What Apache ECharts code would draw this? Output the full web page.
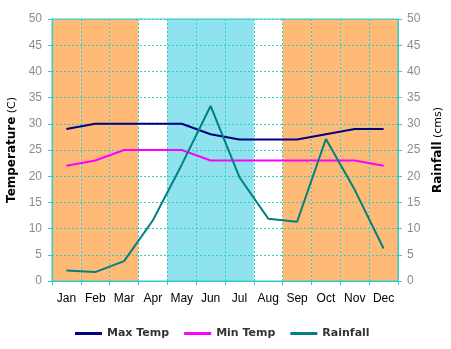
<!DOCTYPE html>
<html>
<head>
<meta charset="utf-8">
<script src="https://cdn.jsdelivr.net/npm/echarts@6/dist/echarts.min.js"></script>
<style>html,body{margin:0;padding:0;background:#fff}#c{width:451px;height:349px}</style>
</head>
<body>
<div id="c"></div>
<script>
var months = ['Jan','Feb','Mar','Apr','May','Jun','Jul','Aug','Sep','Oct','Nov','Dec'];
var maxTemp = [29, 30, 30, 30, 30, 28, 27, 27, 27, 28, 29, 29];
var minTemp = [22, 23, 25, 25, 25, 23, 23, 23, 23, 23, 23, 22];
var rainfall = [2, 1.7, 3.8, 11.6, 22.2, 33.4, 19.8, 11.9, 11.3, 27.1, 17.4, 6.2];
var bandColors = ['#FFBA75','#FFBA75','#FFBA75','#FFFFFF','#8EE3EF','#8EE3EF','#8EE3EF','#FFFFFF','#FFBA75','#FFBA75','#FFBA75','#FFBA75'];
var axisMax = 50;
var cyan = '#33CCCC';

var chart = echarts.init(document.getElementById('c'), null, {renderer:'canvas'});
chart.setOption({
  animation: false,
  backgroundColor: '#fff',
  grid: {left: 52, right: 53, top: 19, bottom: 68, show: true, borderColor: cyan, borderWidth: 1, outerBoundsMode: 'none', containLabel: false},
  legend: {
    data: ['Max Temp','Min Temp','Rainfall'],
    left: 70, top: 323,
    icon: 'rect', itemWidth: 27, itemHeight: 3, itemGap: 15,
    textStyle: {fontFamily: 'DejaVu Sans', fontWeight: 'bold', fontSize: 11, color: '#333'}
  },
  xAxis: {
    type: 'category', data: months, boundaryGap: true,
    axisLine: {lineStyle: {color: cyan}},
    axisTick: {show: true, length: 4, lineStyle: {color: cyan}},
    axisLabel: {interval: 0, color: '#000', fontFamily: 'Liberation Sans', fontSize: 12, margin: 12},
    splitLine: {show: true, interval: 0, lineStyle: {color: cyan, type: [2,2], width: 1}}
  },
  yAxis: [{
    type: 'value', min: 0, max: axisMax, interval: 5, position: 'left',
    name: '{b|Temperature} {n|(C)}', nameLocation: 'middle', nameGap: 33, nameRotate: 90,
    nameTextStyle: {rich: {b: {fontFamily: 'DejaVu Sans', fontWeight: 'bold', fontSize: 12, color: '#000'}, n: {fontFamily: 'DejaVu Sans', fontSize: 11, color: '#000'}}},
    axisLine: {show: true, lineStyle: {color: cyan}},
    axisTick: {show: true, length: 4, lineStyle: {color: cyan}},
    axisLabel: {color: '#8c8c8c', fontFamily: 'Liberation Sans', fontSize: 12, margin: 10},
    splitLine: {show: true, lineStyle: {color: cyan, type: [2,2], width: 1}}
  }, {
    type: 'value', min: 0, max: axisMax, interval: 5, position: 'right',
    name: '{b|Rainfall} {n|(cms)}', nameLocation: 'middle', nameGap: 34, nameRotate: 90,
    nameTextStyle: {rich: {b: {fontFamily: 'DejaVu Sans', fontWeight: 'bold', fontSize: 12, color: '#000'}, n: {fontFamily: 'DejaVu Sans', fontSize: 11, color: '#000'}}},
    axisLine: {show: true, lineStyle: {color: cyan}},
    axisTick: {show: true, length: 4, lineStyle: {color: cyan}},
    axisLabel: {color: '#8c8c8c', fontFamily: 'Liberation Sans', fontSize: 12, margin: 9},
    splitLine: {show: false}
  }],
  series: [{
    name: 'bands', type: 'bar', yAxisIndex: 0, z: -1, silent: true,
    barCategoryGap: '0%', barGap: '0%',
    data: months.map(function(m, i){ return {value: axisMax, itemStyle: {color: bandColors[i]}}; })
  }, {
    name: 'Max Temp', type: 'line', yAxisIndex: 0, data: maxTemp, showSymbol: false, symbol: 'none',
    lineStyle: {color: '#000080', width: 2}, itemStyle: {color: '#000080'}
  }, {
    name: 'Min Temp', type: 'line', yAxisIndex: 0, data: minTemp, showSymbol: false, symbol: 'none',
    lineStyle: {color: '#FF00FF', width: 2}, itemStyle: {color: '#FF00FF'}
  }, {
    name: 'Rainfall', type: 'line', yAxisIndex: 1, data: rainfall, showSymbol: false, symbol: 'none',
    lineStyle: {color: '#008080', width: 2}, itemStyle: {color: '#008080'}
  }]
});
</script>
</body>
</html>
